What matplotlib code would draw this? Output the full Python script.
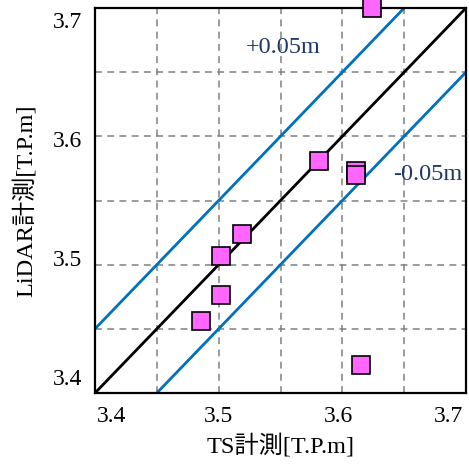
import matplotlib
matplotlib.use("Agg")
import matplotlib.pyplot as plt
from matplotlib.transforms import ScaledTranslation

# data
ts = [3.624, 3.581, 3.611, 3.611, 3.519, 3.502, 3.502, 3.486, 3.615]
lidar = [3.700, 3.581, 3.5726, 3.5697, 3.524, 3.507, 3.476, 3.456, 3.4216]
ax_min, ax_max = 3.4, 3.7
tolerance = 0.05
tick_vals = [3.4, 3.5, 3.6, 3.7]
tick_labels = ["3.4", "3.5", "3.6", "3.7"]
grid_vals = [3.45, 3.5, 3.55, 3.6, 3.65]

serif = ["Liberation Serif", "Noto Sans CJK JP"]

fig = plt.figure(figsize=(4.69, 4.67), dpi=100)
ax = fig.add_axes([95/469, 1-393/467, (466-95)/469, (393-8)/467])
ax.set_xlim(ax_min, ax_max)
ax.set_ylim(ax_min, ax_max)

for g in grid_vals:
    ax.axvline(g, color="#808080", lw=1.1, ls=(0, (4.5, 3.5)), zorder=1)
    ax.axhline(g, color="#808080", lw=1.1, ls=(0, (4.5, 3.5)), zorder=1)

blue = "#0070C0"
ax.plot([ax_min, ax_max], [ax_min, ax_max], color="black", lw=2.0, zorder=3)
ax.plot([ax_min, ax_max - tolerance], [ax_min + tolerance, ax_max], color=blue, lw=2.0, zorder=3)
ax.plot([ax_min + tolerance, ax_max], [ax_min, ax_max - tolerance], color=blue, lw=2.0, zorder=3)

ax.plot(ts, lidar, ls="none", marker="s", ms=12.3, mfc="#FF66FF", mec="black",
        mew=1.2, zorder=5, clip_on=False)

navy = "#1F3864"
ax.text(3.552, 3.6695, "+0.05m", color=navy, fontsize=17.5, family=serif,
        ha="center", va="center", zorder=4)
ax.text(3.669, 3.570, "-0.05m", color=navy, fontsize=17.5, family=serif,
        ha="center", va="center", zorder=4)

for s in ax.spines.values():
    s.set_linewidth(1.6)
    s.set_color("black")
    s.set_zorder(4)

ax.set_xticks(tick_vals)
ax.set_xticklabels(tick_labels)
ax.set_yticks(tick_vals)
ax.set_yticklabels(tick_labels)
ax.tick_params(length=0, labelsize=17, pad=9)
for lab in ax.get_xticklabels() + ax.get_yticklabels():
    lab.set_family(serif)

# nudge labels like the reference (pixel offsets)
px = 0.72 / 72
xoffs = [17, 0, -4, -18]
yoffs = [16, 6.5, -2.5, -11.5]
for lab, d in zip(ax.get_xticklabels(), xoffs):
    lab.set_transform(lab.get_transform() + ScaledTranslation(d * px, 0, fig.dpi_scale_trans))
for lab, d in zip(ax.get_yticklabels(), yoffs):
    lab.set_transform(lab.get_transform() + ScaledTranslation(0, d * px, fig.dpi_scale_trans))

ax.set_xlabel("TS計測[T.P.m]", fontsize=17.5, family=serif, labelpad=5)
ax.set_ylabel("LiDAR計測[T.P.m]", fontsize=17.5, family=serif, labelpad=12)

fig.savefig("out.png", dpi=100)
